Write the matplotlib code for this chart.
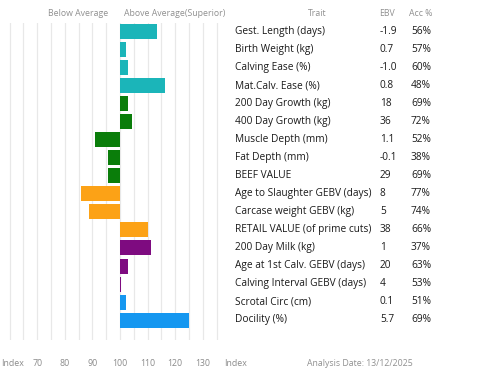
import matplotlib
matplotlib.use("Agg")
from matplotlib import pyplot as plt

plt.rcParams['font.family'] = ['Open Sans', 'DejaVu Sans']

# chart data
traits = ["Gest. Length (days)", "Birth Weight (kg)", "Calving Ease (%)", "Mat.Calv. Ease (%)",
          "200 Day Growth (kg)", "400 Day Growth (kg)", "Muscle Depth (mm)", "Fat Depth (mm)",
          "BEEF VALUE", "Age to Slaughter GEBV (days)", "Carcase weight GEBV (kg)",
          "RETAIL VALUE (of prime cuts)", "200 Day Milk (kg)", "Age at 1st Calv. GEBV (days)",
          "Calving Interval GEBV (days)", "Scrotal Circ (cm)", "Docility (%)"]
ebv = ["-1.9", "0.7", "-1.0", "0.8", "18", "36", "1.1", "-0.1", "29", "8", "5", "38", "1",
       "20", "4", "0.1", "5.7"]
acc = ["56%", "57%", "60%", "48%", "69%", "72%", "52%", "38%", "69%", "77%", "74%", "66%",
       "37%", "63%", "53%", "51%", "69%"]
index = [113.3, 102.2, 103.0, 116.3, 103.0, 104.2, 90.9, 95.8, 95.8, 85.9, 88.9, 110.1,
         111.1, 103.0, 100.5, 102.2, 125.1]
groups = ["teal", "teal", "teal", "teal", "green", "green", "green", "green", "green",
          "orange", "orange", "orange", "purple", "purple", "purple", "blue", "blue"]
tick_vals = [61, 70, 80, 90, 100, 110, 120, 130, 142]
tick_labels = ["Index", "70", "80", "90", "100", "110", "120", "130", "Index"]
grid_vals = list(range(60, 140, 5))

colours = {"teal": "#1bb5b9", "green": "#0a7d0a", "orange": "#fca216",
           "purple": "#7e0b80", "blue": "#1597f0"}

W, H = 480, 378
fig = plt.figure(figsize=(4.8, 3.78), dpi=100)
ax = fig.add_axes([2.7 / W, 38 / H, 234.6 / W, 317 / H])

for g in grid_vals:
    ax.axvline(g, color="#e8e8e8", lw=0.9, zorder=0)

rows = list(range(len(traits)))
ax.barh(rows, [v - 100 for v in index], left=100, height=0.83,
        color=[colours[g] for g in groups], zorder=2)

ax.set_yticks([])
ax.set_xticks(tick_vals)
ax.set_xticklabels(tick_labels, fontsize=6.3, color="#8a8a8a")
ax.tick_params(axis="x", length=0, pad=14)
ax.set_xlim(57.5, 142.5)
ax.set_ylim(17.1, -0.47)
for s in ax.spines.values():
    s.set_visible(False)

def px(x, y):
    return x / W, 1 - y / H

grey = "#909090"
fig.text(*px(78, 14), "Below Average", fontsize=6.3, color=grey, ha="center", va="center")
fig.text(*px(175, 14), "Above Average(Superior)", fontsize=6.3, color=grey, ha="center", va="center")
fig.text(*px(317, 13), "Trait", fontsize=6.3, color=grey, ha="center", va="center")
fig.text(*px(387, 13), "EBV", fontsize=6.3, color=grey, ha="center", va="center")
fig.text(*px(421, 13), "Acc %", fontsize=6.3, color=grey, ha="center", va="center")
fig.text(*px(360, 363), "Analysis Date: 13/12/2025", fontsize=6.3, color=grey,
         ha="center", va="center")

for i in rows:
    y = 31.5 + i * 18.03
    fig.text(*px(235, y), traits[i], fontsize=7.3, color="#1a1a1a", ha="left", va="center")
    fig.text(*px(380, y), ebv[i], fontsize=7.3, color="#1a1a1a", ha="left", va="center")
    fig.text(*px(411, y), acc[i], fontsize=7.3, color="#1a1a1a", ha="left", va="center")

fig.savefig("out.png", dpi=100)
